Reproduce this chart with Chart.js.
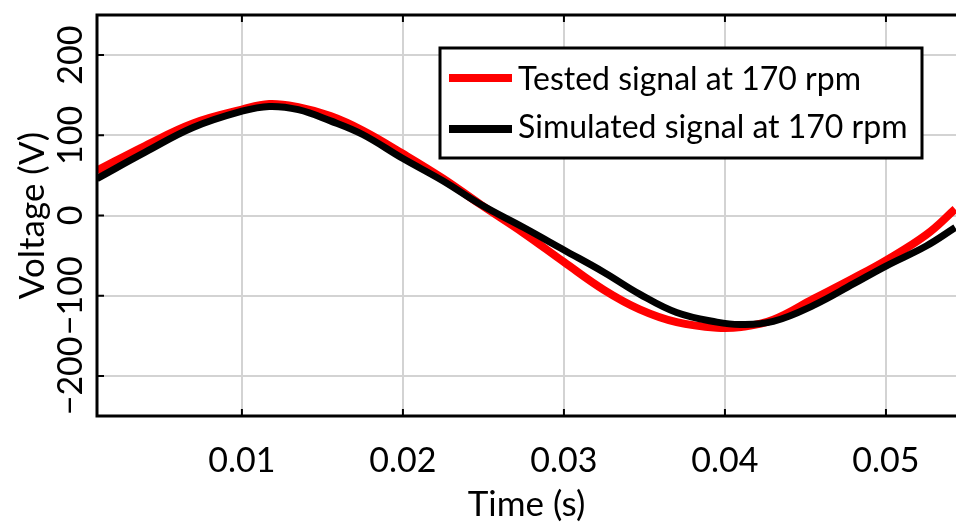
<!DOCTYPE html>
<html>
<head>
<meta charset="UTF-8">
<style>
  html, body { margin: 0; padding: 0; background: #fff; }
  #wrap { width: 956px; height: 523px; }
</style>
</head>
<body>
<div id="wrap"><canvas id="myChart"></canvas></div>

<script src="https://cdn.jsdelivr.net/npm/chart.js"></script>

<script>
    // values
    const times = [0.001, 0.004, 0.007, 0.010, 0.0117, 0.0135, 0.0155, 0.0175, 0.020, 0.0225, 0.0248, 0.0275,
                   0.030, 0.0325, 0.0347, 0.037, 0.0395, 0.041, 0.043, 0.0455, 0.048, 0.050, 0.0525, 0.0543];
    const tested = [56, 87, 115, 132, 139, 135, 124, 106, 77, 46, 14, -22,
                    -58, -93, -117, -133, -140, -139, -130, -104, -78, -56, -24, 8];
    const simulated = [46, 79, 110, 130, 136, 132, 118, 101, 71, 43, 14, -15,
                       -43, -71, -98, -121, -133, -136, -132, -112, -85, -63, -38, -15];
    const xTicks = [0.01, 0.02, 0.03, 0.04, 0.05];
    const yTicks = [-200, -100, 0, 100, 200];
    const labels = ['Tested signal at 170 rpm', 'Simulated signal at 170 rpm'];

    const FONT = 'Lato';

    // frame, inner tick marks and the boxed legend
    const frame = {
        id: 'frame',
        afterDatasetsDraw(chart) {
            const {ctx, chartArea: a, scales: {x, y}} = chart;
            ctx.save();
            ctx.strokeStyle = '#000';
            ctx.lineWidth = 2;
            ctx.beginPath();
            xTicks.forEach(v => {
                const px = x.getPixelForValue(v);
                ctx.moveTo(px, a.bottom); ctx.lineTo(px, a.bottom - 7);
                ctx.moveTo(px, a.top); ctx.lineTo(px, a.top + 7);
            });
            yTicks.forEach(v => {
                const py = y.getPixelForValue(v);
                ctx.moveTo(a.left, py); ctx.lineTo(a.left + 7, py);
            });
            ctx.stroke();
            ctx.lineWidth = 3;
            ctx.beginPath();
            ctx.moveTo(a.right + 2, a.bottom);
            ctx.lineTo(a.left, a.bottom);
            ctx.lineTo(a.left, a.top);
            ctx.lineTo(a.right + 2, a.top);
            ctx.stroke();
            ctx.restore();
        },
        afterDraw(chart) {
            const {ctx, chartArea: a} = chart;
            const left = a.left + 343, top = a.top + 33, w = 482, h = 110;
            ctx.save();
            ctx.fillStyle = '#fff';
            ctx.fillRect(left, top, w, h);
            ctx.strokeStyle = '#000';
            ctx.lineWidth = 3;
            ctx.strokeRect(left, top, w, h);
            chart.data.datasets.forEach((ds, i) => {
                const ly = top + 30 + i * 51;
                ctx.strokeStyle = ds.borderColor;
                ctx.lineWidth = 8;
                ctx.beginPath();
                ctx.moveTo(left + 9, ly);
                ctx.lineTo(left + 72, ly);
                ctx.stroke();
                ctx.fillStyle = '#000';
                ctx.font = '32px ' + FONT;
                ctx.textBaseline = 'alphabetic';
                ctx.fillText(ds.label, left + 78, top + 42 + i * 48);
            });
            ctx.restore();
        }
    };

    function chart() {
        const ctx = document.getElementById('myChart');
        new Chart(ctx, {
            type: 'line',
            data: {
                datasets: [{
                    label: labels[0],
                    data: times.map((t, i) => ({x: t, y: tested[i]})),
                    borderColor: '#ff0000',
                    borderWidth: 8,
                    order: 1
                }, {
                    label: labels[1],
                    data: times.map((t, i) => ({x: t, y: simulated[i]})),
                    borderColor: '#000000',
                    borderWidth: 7,
                    order: 0
                }]
            },
            options: {
                responsive: true,
                maintainAspectRatio: false,
                animation: false,
                layout: { padding: { top: 15, right: 0, left: 0, bottom: 0 } },
                elements: {
                    point: { radius: 0 },
                    line: { tension: 0.4, capBezierPoints: true }
                },
                plugins: {
                    legend: { display: false },
                    tooltip: { enabled: false }
                },
                scales: {
                    x: {
                        type: 'linear',
                        min: 0.001,
                        max: 0.05435,
                        afterBuildTicks: s => { s.ticks = xTicks.map(v => ({value: v})); },
                        afterFit: s => { s.height = 107; },
                        border: { display: false },
                        grid: { color: '#d3d3d3', lineWidth: 2, drawTicks: false },
                        ticks: {
                            color: '#000',
                            padding: 28,
                            autoSkip: false,
                            maxRotation: 0,
                            font: { family: FONT, size: 34, lineHeight: 1 },
                            callback: v => String(v)
                        },
                        title: {
                            display: true,
                            text: 'Time (s)',
                            color: '#000',
                            font: { family: FONT, size: 35, lineHeight: 1 },
                            padding: { top: 0, bottom: 1 }
                        }
                    },
                    y: {
                        min: -250,
                        max: 250,
                        afterBuildTicks: s => { s.ticks = yTicks.map(v => ({value: v})); },
                        afterFit: s => { s.width = 97; },
                        border: { display: false },
                        grid: { color: '#d3d3d3', lineWidth: 2, drawTicks: false },
                        ticks: {
                            color: '#000',
                            minRotation: 90,
                            maxRotation: 90,
                            crossAlign: 'center',
                            padding: -13,
                            autoSkip: false,
                            font: { family: FONT, size: 34, lineHeight: 1 },
                            callback: v => String(v).replace('-', '\u2212')
                        },
                        title: {
                            display: true,
                            text: 'Voltage (V)',
                            color: '#000',
                            font: { family: FONT, size: 35, lineHeight: 1 },
                            padding: { top: 15, bottom: 0 }
                        }
                    }
                }
            },
            plugins: [frame]
        });
    }

    chart();
</script>
</body>
</html>
